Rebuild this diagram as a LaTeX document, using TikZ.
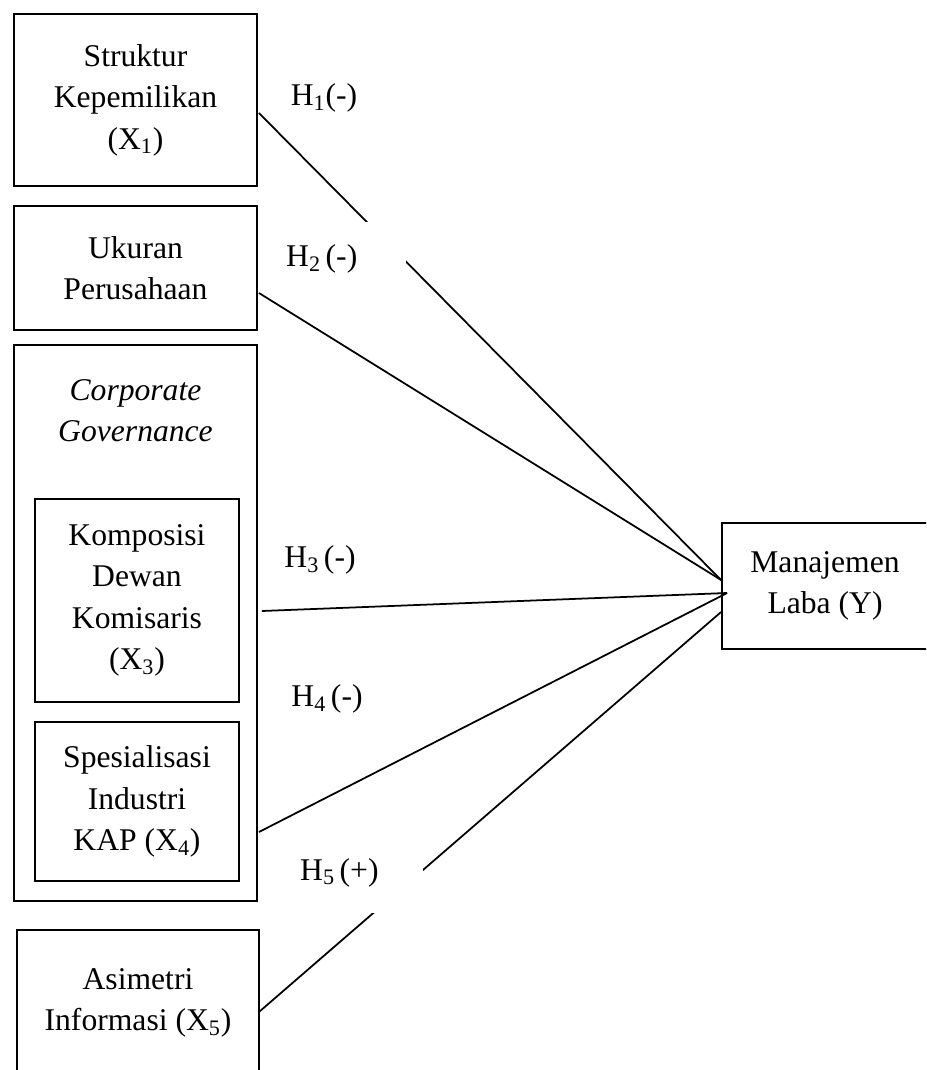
\documentclass[tikz,border=0pt]{standalone}
\usepackage{fontspec}
\setmainfont{Liberation Serif}
\usetikzlibrary{calc}

\begin{document}
\begin{tikzpicture}[x=0.02cm, y=-0.02cm,
      every node/.style = {font=\fontsize{18}{23.6}\selectfont},
      box/.style = {draw, line width=1.1pt, align=center, inner sep=0pt},
      hyp/.style = {fill=white, inner sep=2pt, align=left},
      link/.style = {line width=1pt}]
  \useasboundingbox (0,0) rectangle (926,1070);
  \clip (0,0) rectangle (926,1070);
  \node[box, minimum width=4.86cm, minimum height=3.44cm] (x1) at (135.5,100)
    {Struktur\\ Kepemilikan\\ (X\textsubscript{1})};
  \node[box, minimum width=4.86cm, minimum height=2.48cm] (x2) at (135.5,268)
    {Ukuran\\ Perusahaan};
  \node[box, minimum width=4.86cm, minimum height=11.12cm] (cg) at (135.5,623) {};
  \node[anchor=north, inner sep=0pt, align=center] (cgtitle) at (135.5,379)
    {\textit{Corporate}\\ \textit{Governance}};
  \node[box, minimum width=4.08cm, minimum height=4.06cm] (x3) at (137,600.5)
    {Komposisi\\ Dewan\\ Komisaris\\ (X\textsubscript{3})};
  \node[box, minimum width=4.08cm, minimum height=3.18cm] (x4) at (137,801.5)
    {Spesialisasi\\ Industri\\ KAP (X\textsubscript{4})};
  \node[box, minimum width=4.84cm, minimum height=2.92cm] (x5) at (138,1003)
    {Asimetri\\ Informasi (X\textsubscript{5})};
  \node[box, minimum width=4.12cm, minimum height=2.52cm] (y) at (825,586)
    {Manajemen\\ Laba (Y)};

  \draw[link] ($(x1.east)+(1,13)$) -- ($(y.west)+(0,-6)$);
  \draw[link] ($(x2.east)+(1,25)$) -- ($(y.west)+(0,-6)$);
  \draw[link] ($(cg.east)+(4,-12)$) -- ($(y.west)+(6,7)$);
  \draw[link] ($(cg.east)+(1,209)$) -- ($(y.west)+(6,7)$);
  \draw[link] ($(x5.east)+(-1,9)$) -- ($(y.west)+(0,26)$);

  \node[hyp] (h1) at (324,98) {H\textsubscript{1}(-)};
  \node[hyp, anchor=north east, text width=2.32cm, minimum height=1.48cm] (h2)
    at (406,222) {H\textsubscript{2}\hspace{0.15em}(-)};
  \node[hyp] (h3) at (320,560) {H\textsubscript{3}\hspace{0.15em}(-)};
  \node[hyp] (h4) at (327,699) {H\textsubscript{4}\hspace{0.15em}(-)};
  \node[hyp, anchor=south east, text width=2.38cm, minimum height=1.6cm] (h5)
    at (423,913) {H\textsubscript{5}\hspace{0.15em}(+)};
\end{tikzpicture}
\end{document}
